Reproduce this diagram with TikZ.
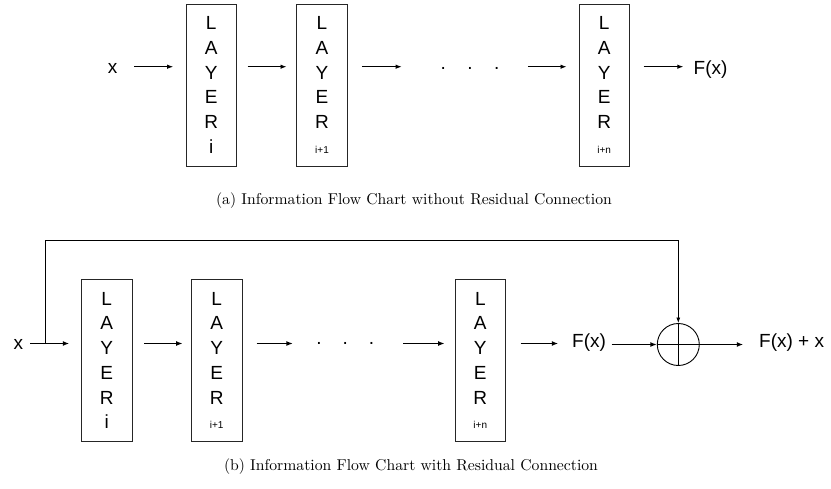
\documentclass[tikz,border=0pt]{standalone}
\usepackage{fontspec}
\newfontfamily\arial{Liberation Sans}
\newfontfamily\capfont[Extension=.otf]{lmroman10-regular}
\usetikzlibrary{arrows.meta}
\begin{document}
\begin{tikzpicture}[x=1pt,y=-1pt,
  layer/.style={draw=black!85, line width=0.9pt, minimum width=50.5pt, minimum height=162pt,
    inner sep=0pt, align=center, font=\arial\fontsize{19}{24.7}\selectfont},
  lbl/.style={inner sep=0pt, font=\arial\fontsize{19}{23}\selectfont},
  dotsn/.style={inner sep=0pt, font=\arial\fontsize{19}{23}\selectfont},
  arr/.style={-{Latex[length=6pt,width=4.5pt]}, line width=0.9pt},
  arrb/.style={-{Latex[length=6.5pt,width=5pt]}, line width=1.3pt},
  fbline/.style={-{Latex[length=5.5pt,width=4pt]}, line width=0.8pt},
  sumn/.style={circle, draw, line width=0.9pt, minimum size=42pt, inner sep=0pt},
  captext/.style={inner sep=0pt, font=\capfont\fontsize{15.7}{19}\selectfont}]
\useasboundingbox (0,0) rectangle (831,488);
\newcommand{\lsub}[1]{{\fontsize{10}{12}\selectfont #1}}

% ---------- (a) ----------
\coordinate (ra) at (0,66.7);
\node[lbl, anchor=base] (x1) at (112.7,73.2) {x};
\node[layer] (a1) at (211.2,85) {L\\A\\Y\\E\\R\\i};
\node[layer] (a2) at (322,85) {L\\A\\Y\\E\\R\\\lsub{i+1}};
\node[dotsn] (ad) at (470,68.5) {.\hspace{21.4pt}.\hspace{21.4pt}.};
\node[layer] (a3) at (604.2,85) {L\\A\\Y\\E\\R\\\lsub{i+n}};
\node[lbl, anchor=base west] (fa) at (693.5,74.3) {F(x)};

\draw[arr, shorten <=16.5pt, shorten >=12.4pt] (x1.east |- ra) -- (a1.west |- ra);
\draw[arr, shorten <=10.6pt, shorten >=9.8pt] (a1.east |- ra) -- (a2.west |- ra);
\draw[arr, shorten <=14.2pt, shorten >=38.9pt] (a2.east |- ra) -- (ad.west |- ra);
\draw[arr, shorten <=28.4pt, shorten >=12pt] (ad.east |- ra) -- (a3.west |- ra);
\draw[arr, shorten <=13.6pt, shorten >=10.2pt] (a3.east |- ra) -- (fa.west |- ra);

\node[captext] (capa) at (414,201) {(a) Information Flow Chart without Residual Connection};

% ---------- (b) ----------
\coordinate (rb) at (0,343.5);
\coordinate (topc) at (0,240.7);
\node[lbl, anchor=base] (x2) at (18.3,349.3) {x};
\coordinate (split) at (45.7,343.5);
\node[layer] (b1) at (106.7,360.5) {L\\A\\Y\\E\\R\\i};
\node[layer] (b2) at (216.7,360.5) {L\\A\\Y\\E\\R\\\lsub{i+1}};
\node[dotsn] (bd) at (345.3,343.8) {.\hspace{21pt}.\hspace{21pt}.};
\node[layer] (b3) at (480.3,360.5) {L\\A\\Y\\E\\R\\\lsub{i+n}};
\node[lbl, anchor=base west] (fb) at (572,347.7) {F(x)};
\node[sumn] (sum) at (678.3,344.5) {};
\draw[line width=0.9pt] (sum.north) -- (sum.south) (sum.west) -- (sum.east);
\node[lbl, anchor=base west] (fc) at (759,347.7) {F(x) + x};

\draw[arrb, shorten <=7pt, shorten >=11.7pt] (x2.east |- rb) -- (b1.west |- rb);
\draw[arrb, shorten <=11.6pt, shorten >=8.4pt] (b1.east |- rb) -- (b2.west |- rb);
\draw[arrb, shorten <=14.3pt, shorten >=23.3pt] (b2.east |- rb) -- (bd.west |- rb);
\draw[arrb, shorten <=28.7pt, shorten >=10pt] (bd.east |- rb) -- (b3.west |- rb);
\draw[arrb, shorten <=14.7pt, shorten >=13.7pt] (b3.east |- rb) -- (fb.west |- rb);
\draw[arrb, shorten <=5.5pt] (fb.east |- sum.center) -- (sum.west);
\draw[arrb, shorten >=15.7pt] (sum.east) -- (fc.west |- sum.center);
\draw[fbline] (split) -- (split |- topc) -- (sum.north |- topc) -- (sum.north);

\node[captext] (capb) at (411,467) {(b) Information Flow Chart with Residual Connection};
\end{tikzpicture}
\end{document}
